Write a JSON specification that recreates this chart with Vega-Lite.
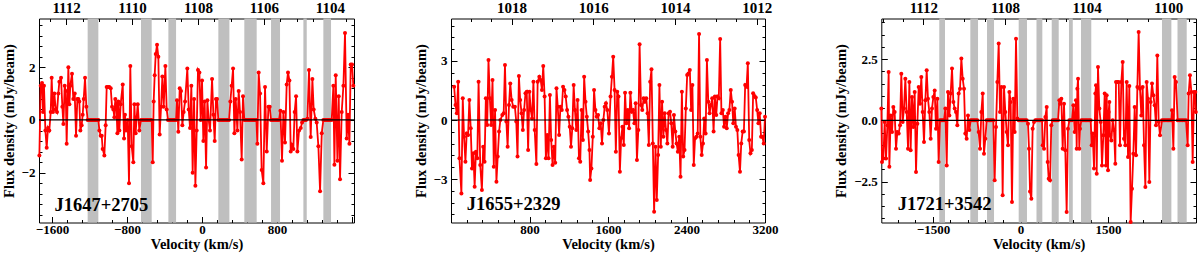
{
"$schema": "https://vega.github.io/schema/vega-lite/v6.json",
"width": 1200, "height": 256,
"autosize": {"type": "none"},
"padding": 0,
"config": {
  "view": {"stroke": null},
  "axis": {"labelFont": "Liberation Serif", "labelFontWeight": "bold", "labelFontSize": 13, "labelColor": "black",
           "titleFont": "Liberation Serif", "titleFontWeight": "bold", "titleFontSize": 14.5, "titleColor": "black",
           "domainColor": "black", "tickColor": "black", "grid": false, "labelOverlap": false, "labelFlush": false,
           "domainWidth": 1, "tickWidth": 1}
},
"resolve": {"scale": {"x": "independent", "y": "independent"}, "axis": {"x": "independent", "y": "independent"}},
"layer": [
 {
  "resolve": {"scale": {"x": "independent", "y": "independent"}, "axis": {"x": "independent", "y": "independent"}},
  "layer": [
   {"layer": [
     {"data": {"values": [{"lo":-1220,"hi":-1106},{"lo":-651,"hi":-537},{"lo":-359,"hi":-277},{"lo":174,"hi":292},{"lo":451,"hi":583},{"lo":736,"hi":832},{"lo":1081,"hi":1117},{"lo":1294,"hi":1376}]},
      "mark": {"type": "rect", "color": "#bfbfbf"},
      "encoding": {"x": {"field": "lo", "type": "quantitative", "axis": null}, "x2": {"field": "hi"},
                   "y": {"datum": -3.89, "type": "quantitative", "axis": null}, "y2": {"datum": 3.85}}},
     {"data": {"values": [
{"v":-1735,"f":-1.35},{"v":-1721,"f":1.3},{"v":-1707,"f":1.4},{"v":-1696,"f":0.3},{"v":-1686,"f":1.3},{"v":-1671,"f":-0.4},{"v":-1657,"f":-1.05},{"v":-1643,"f":-0.3},{"v":-1629,"f":-0.4},{"v":-1614,"f":0.3},{"v":-1604,"f":1.6},{"v":-1590,"f":0.3},{"v":-1575,"f":1.0},{"v":-1561,"f":0.4},{"v":-1547,"f":0.3},{"v":-1533,"f":1.0},{"v":-1522,"f":1.45},{"v":-1504,"f":1.6},{"v":-1490,"f":0.5},{"v":-1479,"f":-0.15},{"v":-1465,"f":1.3},{"v":-1454,"f":1.1},{"v":-1444,"f":-0.9},{"v":-1426,"f":2.0},{"v":-1415,"f":0.6},{"v":-1405,"f":1.3},{"v":-1387,"f":1.75},{"v":-1373,"f":0.8},{"v":-1358,"f":1.0},{"v":-1344,"f":-0.6},{"v":-1330,"f":0.8},{"v":-1319,"f":0.8},{"v":-1309,"f":0.7},{"v":-1298,"f":-0.4},{"v":-1284,"f":-0.2},{"v":-1273,"f":0.2},{"v":-1262,"f":0.8},{"v":-1248,"f":1.6},{"v":-1234,"f":0.5},
{"v":-1220,"f":0},{"v":-1206,"f":0},{"v":-1191,"f":0},{"v":-1177,"f":0},{"v":-1163,"f":0},{"v":-1149,"f":0},{"v":-1135,"f":0},{"v":-1120,"f":0},{"v":-1106,"f":0},
{"v":-1095,"f":-0.4},{"v":-1081,"f":-0.6},{"v":-1070,"f":-0.6},{"v":-1060,"f":-1.1},{"v":-1042,"f":-1.35},{"v":-1028,"f":-0.2},{"v":-1017,"f":1.25},{"v":-1003,"f":1.25},{"v":-989,"f":1.25},{"v":-974,"f":1.2},{"v":-960,"f":0.5},{"v":-946,"f":0.4},{"v":-935,"f":0.1},{"v":-925,"f":0.8},{"v":-914,"f":0.6},{"v":-903,"f":-0.5},{"v":-893,"f":0.7},{"v":-882,"f":-0.4},{"v":-868,"f":0.6},{"v":-846,"f":1.35},{"v":-832,"f":-0.7},{"v":-822,"f":0.2},{"v":-811,"f":-0.4},{"v":-793,"f":0.0},{"v":-779,"f":-2.4},{"v":-765,"f":2.05},{"v":-750,"f":-1.0},{"v":-733,"f":-1.6},{"v":-722,"f":0.6},{"v":-708,"f":-0.5},{"v":-697,"f":0.1},{"v":-686,"f":0.6},{"v":-669,"f":-0.4},
{"v":-651,"f":0},{"v":-637,"f":0},{"v":-622,"f":0},{"v":-608,"f":0},{"v":-594,"f":0},{"v":-580,"f":0},{"v":-566,"f":0},{"v":-551,"f":0},{"v":-537,"f":0},
{"v":-526,"f":-1.6},{"v":-516,"f":0.7},{"v":-505,"f":1.7},{"v":-494,"f":2.5},{"v":-480,"f":2.85},{"v":-466,"f":2.4},{"v":-452,"f":-0.55},{"v":-437,"f":0.5},{"v":-423,"f":1.65},{"v":-409,"f":0.5},{"v":-391,"f":2.05},{"v":-377,"f":0.4},
{"v":-363,"f":0},{"v":-349,"f":0},{"v":-334,"f":0},{"v":-320,"f":0},{"v":-306,"f":0},{"v":-292,"f":0},{"v":-277,"f":0},
{"v":-267,"f":0.75},{"v":-253,"f":-0.45},{"v":-238,"f":1.2},{"v":-224,"f":1.1},{"v":-210,"f":-0.2},{"v":-196,"f":0.3},{"v":-181,"f":0.7},{"v":-157,"f":1.95},{"v":-142,"f":0.4},{"v":-128,"f":-0.3},{"v":-114,"f":1.3},{"v":-100,"f":-2.0},{"v":-85,"f":0.8},{"v":-71,"f":-2.5},{"v":-57,"f":-0.4},{"v":-43,"f":1.9},{"v":-28,"f":1.8},{"v":-14,"f":0.0},{"v":0,"f":1.5},{"v":14,"f":-0.8},{"v":28,"f":0.7},{"v":43,"f":-1.8},{"v":57,"f":0.75},{"v":71,"f":0.0},{"v":85,"f":-0.4},{"v":107,"f":1.55},{"v":121,"f":0.2},{"v":135,"f":-0.8},{"v":149,"f":0.8},{"v":160,"f":0.8},
{"v":174,"f":0},{"v":188,"f":0},{"v":203,"f":0},{"v":217,"f":0},{"v":231,"f":0},{"v":245,"f":0},{"v":260,"f":0},{"v":274,"f":0},{"v":288,"f":0},
{"v":302,"f":0.7},{"v":316,"f":1.3},{"v":331,"f":1.95},{"v":345,"f":-0.5},{"v":359,"f":0.8},{"v":377,"f":-0.4},{"v":391,"f":1.1},{"v":405,"f":0.3},{"v":423,"f":-1.5},{"v":437,"f":0.9},
{"v":451,"f":0},{"v":466,"f":0},{"v":480,"f":0},{"v":494,"f":0},{"v":508,"f":0},{"v":523,"f":0},{"v":537,"f":0},{"v":551,"f":0},{"v":565,"f":0},{"v":580,"f":0},
{"v":590,"f":-0.9},{"v":604,"f":1.8},{"v":619,"f":1.0},{"v":636,"f":-1.9},{"v":654,"f":-2.4},{"v":672,"f":1.25},{"v":690,"f":-1.2},{"v":708,"f":0.5},{"v":722,"f":0.5},
{"v":736,"f":0},{"v":750,"f":0},{"v":764,"f":0},{"v":779,"f":0},{"v":793,"f":0},{"v":807,"f":0},{"v":821,"f":0},
{"v":836,"f":0.35},{"v":853,"f":-1.55},{"v":868,"f":0.3},{"v":885,"f":-0.85},{"v":903,"f":1.35},{"v":917,"f":1.8},{"v":932,"f":1.5},{"v":946,"f":-1.2},{"v":960,"f":-0.95},{"v":974,"f":-1.1},{"v":988,"f":0.3},{"v":1003,"f":0.9},{"v":1017,"f":-1.2},{"v":1035,"f":-0.4},{"v":1053,"f":-0.3},{"v":1067,"f":-0.1},
{"v":1081,"f":0},{"v":1095,"f":0},{"v":1109,"f":0},
{"v":1124,"f":0.05},{"v":1141,"f":1.9},{"v":1159,"f":-0.65},{"v":1177,"f":1.55},{"v":1191,"f":0.4},{"v":1209,"f":0.05},{"v":1223,"f":-0.1},{"v":1241,"f":-1.0},{"v":1259,"f":-2.7},{"v":1277,"f":-0.5},
{"v":1294,"f":0},{"v":1309,"f":0},{"v":1323,"f":0},{"v":1337,"f":0},{"v":1351,"f":0},{"v":1365,"f":0},
{"v":1383,"f":0.0},{"v":1401,"f":1.3},{"v":1412,"f":-1.7},{"v":1426,"f":1.7},{"v":1444,"f":-1.55},{"v":1458,"f":0.9},{"v":1472,"f":-2.25},{"v":1490,"f":0.3},{"v":1508,"f":1.3},{"v":1525,"f":3.3},{"v":1543,"f":-0.7},{"v":1557,"f":0.2},{"v":1572,"f":-0.9},{"v":1586,"f":2.1},{"v":1600,"f":2.1},{"v":1614,"f":1.3}
      ]},
      "mark": {"type": "line", "color": "#ff0000", "strokeWidth": 1.8, "point": {"filled": true, "size": 16, "color": "#ff0000"}},
      "encoding": {
        "x": {"field": "v", "type": "quantitative", "scale": {"domain": [-1739, 1621], "range": [39, 354], "nice": false, "zero": false}, "axis": null},
        "y": {"field": "f", "type": "quantitative", "scale": {"domain": [-3.89, 3.85], "range": [222.5, 18.5], "nice": false, "zero": false}, "axis": null}
      }},
     {"data": {"values": [{}]}, "mark": {"type": "rule", "color": "black", "strokeWidth": 1.2},
      "encoding": {"x": {"datum": -1739, "type": "quantitative", "axis": null}, "x2": {"datum": 1621}, "y": {"datum": 0, "type": "quantitative", "axis": null}}},
     {"data": {"values": [{}]}, "mark": {"type": "text", "text": "J1647+2705", "font": "Liberation Serif", "fontWeight": "bold", "fontSize": 18.5, "align": "left", "baseline": "alphabetic", "color": "black"},
      "encoding": {"x": {"datum": -1575, "type": "quantitative", "axis": null}, "y": {"datum": -3.44, "type": "quantitative", "axis": null}}}
   ]},
   {"data": {"values": [{"v": 0, "f": 0}]}, "mark": {"type": "point", "opacity": 0},
    "encoding": {
      "x": {"field": "v", "type": "quantitative", "scale": {"domain": [-1739, 1621], "range": [39, 354], "nice": false, "zero": false},
            "axis": {"orient": "bottom", "offset": -33.5, "title": "Velocity (km/s)", "titleY": 25.5, "titleBaseline": "alphabetic",
                     "values": [-1600,-1440,-1280,-1120,-960,-800,-640,-480,-320,-160,0,160,320,480,640,800,960,1120,1280,1440,1600],
                     "labelExpr": "(abs(datum.value % 800) < 0.001 && datum.value < 1600) ? format(datum.value, 'd') : ''",
                     "tickSize": {"condition": {"test": "abs(datum.value % 800) < 0.001", "value": -6}, "value": -3},
                     "labelPadding": 6.5}},
      "y": {"field": "f", "type": "quantitative", "scale": {"domain": [-3.89, 3.85], "range": [222.5, 18.5], "nice": false, "zero": false},
            "axis": {"orient": "left", "offset": -39, "title": "Flux density (mJy/beam)", "titleX": -25.5, "titleBaseline": "alphabetic",
                     "values": [-3.6,-3.2,-2.8,-2.4,-2,-1.6,-1.2,-0.8,-0.4,0,0.4,0.8,1.2,1.6,2,2.4,2.8,3.2,3.6],
                     "labelExpr": "abs(datum.value % 2) < 0.001 ? format(datum.value, 'd') : ''",
                     "tickSize": {"condition": {"test": "abs(datum.value % 2) < 0.001", "value": -6}, "value": -3},
                     "labelPadding": 10}}
    }},
   {"data": {"values": [{"freq": 1108, "f": 0}]}, "mark": {"type": "point", "opacity": 0},
    "encoding": {
      "x": {"field": "freq", "type": "quantitative", "scale": {"domain": [1103.27, 1112.82], "reverse": true, "range": [39, 354], "nice": false, "zero": false},
            "axis": {"orient": "top", "offset": -18.5, "title": null,
                     "values": [1103.5,1104,1104.5,1105,1105.5,1106,1106.5,1107,1107.5,1108,1108.5,1109,1109.5,1110,1110.5,1111,1111.5,1112,1112.5],
                     "labelExpr": "abs(datum.value % 2) < 0.001 ? format(datum.value, 'd') : ''",
                     "tickSize": {"condition": {"test": "abs(datum.value % 2) < 0.001", "value": -6}, "value": -3},
                     "labelFontSize": 15, "labelPadding": 9.5}},
      "y": {"field": "f", "type": "quantitative", "scale": {"domain": [-3.89, 3.85], "range": [222.5, 18.5], "nice": false, "zero": false},
            "axis": {"orient": "right", "offset": -846, "title": null, "labels": false,
                     "values": [-3.6,-3.2,-2.8,-2.4,-2,-1.6,-1.2,-0.8,-0.4,0,0.4,0.8,1.2,1.6,2,2.4,2.8,3.2,3.6],
                     "tickSize": {"condition": {"test": "abs(datum.value % 2) < 0.001", "value": -6}, "value": -3}}}
    }}
  ]
 },
 {
  "resolve": {"scale": {"x": "independent", "y": "independent"}, "axis": {"x": "independent", "y": "independent"}},
  "layer": [
   {"layer": [
     {"data": {"values": [
{"v":32,"f":1.69},{"v":46,"f":0.76},{"v":59,"f":0.34},{"v":73,"f":1.95},{"v":86,"f":-1.95},{"v":106,"f":-3.73},{"v":120,"f":1.1},{"v":133,"f":-0.85},{"v":147,"f":-2.12},{"v":160,"f":-0.68},{"v":174,"f":-0.76},{"v":187,"f":1.02},{"v":201,"f":-0.42},{"v":214,"f":-2.46},{"v":228,"f":-1.69},{"v":241,"f":-3.39},{"v":254,"f":-1.61},{"v":268,"f":-1.95},{"v":281,"f":1.95},{"v":298,"f":-2.29},{"v":315,"f":-3.56},{"v":328,"f":-1.36},{"v":342,"f":-2.12},{"v":355,"f":1.1},{"v":369,"f":-0.25},{"v":382,"f":3.05},{"v":396,"f":1.1},{"v":409,"f":-0.25},{"v":423,"f":2.03},{"v":436,"f":-2.37},{"v":449,"f":0.51},{"v":463,"f":-3.14},{"v":476,"f":-1.86},{"v":490,"f":-0.59},{"v":503,"f":0},{"v":523,"f":0.25},{"v":537,"f":0.34},{"v":550,"f":2.8},{"v":564,"f":-0.08},{"v":577,"f":-1.36},{"v":591,"f":0.76},{"v":604,"f":1.86},{"v":618,"f":1.02},{"v":634,"f":0.68},{"v":651,"f":0.68},{"v":665,"f":-0.08},{"v":678,"f":-1.86},{"v":692,"f":2.24},{"v":705,"f":1.02},{"v":719,"f":0.34},{"v":732,"f":-0.51},{"v":745,"f":0.51},{"v":759,"f":1.36},{"v":772,"f":1.44},{"v":786,"f":-1.53},{"v":799,"f":1.44},{"v":813,"f":0.51},{"v":826,"f":0.08},{"v":840,"f":1.95},{"v":853,"f":-0.51},{"v":870,"f":-2.24},{"v":883,"f":1.95},{"v":900,"f":2.2},{"v":914,"f":2.03},{"v":927,"f":1.53},{"v":940,"f":2.75},{"v":954,"f":1.19},{"v":967,"f":-1.95},{"v":981,"f":-0.76},{"v":994,"f":-1.95},{"v":1008,"f":1.27},{"v":1021,"f":-1.02},{"v":1035,"f":-2.29},{"v":1048,"f":-1.36},{"v":1062,"f":-2.17},{"v":1075,"f":1.61},{"v":1088,"f":0.68},{"v":1102,"f":-0.76},{"v":1115,"f":0.68},{"v":1129,"f":0.51},{"v":1142,"f":1.69},{"v":1156,"f":1.53},{"v":1169,"f":1.19},{"v":1183,"f":0.51},{"v":1196,"f":0.17},{"v":1210,"f":-0.34},{"v":1223,"f":-1.36},{"v":1236,"f":-0.42},{"v":1250,"f":1.78},{"v":1263,"f":0.51},{"v":1277,"f":-0.51},{"v":1290,"f":1.02},{"v":1304,"f":-1.95},{"v":1317,"f":-2.12},{"v":1331,"f":0.51},{"v":1344,"f":-1.02},{"v":1357,"f":2.2},{"v":1371,"f":0.93},{"v":1384,"f":0.17},{"v":1398,"f":-0.59},{"v":1411,"f":-1.53},{"v":1418,"f":-3.05},{"v":1431,"f":-2.46},{"v":1445,"f":-0.85},{"v":1458,"f":1.53},{"v":1472,"f":0.51},{"v":1485,"f":0.17},{"v":1499,"f":0.25},{"v":1512,"f":-0.42},{"v":1526,"f":-0.17},{"v":1539,"f":-1.19},{"v":1553,"f":0},{"v":1566,"f":0.68},{"v":1579,"f":0.85},{"v":1593,"f":0.51},
{"v":1610,"f":-0.68},{"v":1626,"f":1.19},{"v":1640,"f":2.2},{"v":1653,"f":3.22},{"v":1667,"f":1.53},{"v":1680,"f":-1.61},{"v":1694,"f":1.44},{"v":1707,"f":1.19},{"v":1721,"f":-2.63},{"v":1734,"f":-0.93},{"v":1747,"f":-0.34},{"v":1761,"f":-1.27},{"v":1774,"f":1.39},{"v":1788,"f":-0.17},{"v":1801,"f":0.51},{"v":1815,"f":-0.42},{"v":1828,"f":1.39},{"v":1842,"f":0.42},{"v":1855,"f":0.51},{"v":1869,"f":-0.17},{"v":1882,"f":0.85},{"v":1895,"f":-2.03},{"v":1909,"f":-0.51},{"v":1922,"f":3.85},{"v":1936,"f":0.76},{"v":1949,"f":0.51},{"v":1963,"f":1.1},{"v":1976,"f":0.93},{"v":1990,"f":1.1},{"v":2003,"f":0.34},{"v":2016,"f":-1.27},{"v":2030,"f":1.95},{"v":2043,"f":2.58},{"v":2057,"f":-1.19},{"v":2070,"f":-4.66},{"v":2084,"f":-1.36},{"v":2097,"f":-4.07},{"v":2111,"f":-1.78},{"v":2124,"f":1.78},{"v":2138,"f":-1.36},{"v":2151,"f":0.93},{"v":2164,"f":-0.85},{"v":2178,"f":0.34},{"v":2191,"f":-0.51},{"v":2205,"f":-1.19},{"v":2218,"f":0.34},{"v":2232,"f":0.42},{"v":2245,"f":-0.17},{"v":2259,"f":-1.36},{"v":2272,"f":0.25},{"v":2286,"f":-0.59},{"v":2299,"f":-1.19},{"v":2312,"f":-1.61},{"v":2326,"f":-0.85},{"v":2339,"f":-2.88},{"v":2353,"f":1.44},{"v":2366,"f":-1.86},{"v":2380,"f":-1.53},{"v":2393,"f":0.59},{"v":2407,"f":2.29},{"v":2420,"f":2.37},{"v":2434,"f":2.54},{"v":2447,"f":0.51},{"v":2460,"f":1.78},{"v":2474,"f":-2.29},{"v":2487,"f":-0.93},{"v":2501,"f":-0.85},{"v":2514,"f":-0.68},{"v":2528,"f":4.37},{"v":2541,"f":-0.85},{"v":2555,"f":-1.78},{"v":2568,"f":-1.19},{"v":2581,"f":0.08},{"v":2595,"f":-0.68},{"v":2608,"f":3.05},{"v":2622,"f":0.93},{"v":2635,"f":0.34},{"v":2649,"f":0.76},{"v":2662,"f":1.1},{"v":2676,"f":-0.59},{"v":2689,"f":1.19},{"v":2703,"f":0.25},{"v":2716,"f":1.19},{"v":2729,"f":1.1},{"v":2743,"f":4.12},{"v":2756,"f":0.34},{"v":2770,"f":0.51},{"v":2783,"f":-0.34},{"v":2797,"f":0.17},{"v":2810,"f":-0.42},{"v":2824,"f":0.34},{"v":2837,"f":0.51},{"v":2851,"f":1.53},{"v":2864,"f":0.93},{"v":2877,"f":-0.17},{"v":2891,"f":0.59},{"v":2904,"f":-0.34},{"v":2918,"f":-0.51},{"v":2931,"f":-1.78},{"v":2945,"f":-2.63},{"v":2958,"f":-1.19},{"v":2972,"f":-0.59},{"v":2985,"f":-0.59},{"v":2998,"f":1.78},{"v":3012,"f":1.69},{"v":3025,"f":2.88},{"v":3039,"f":-1.02},{"v":3052,"f":-1.69},{"v":3066,"f":-1.53},{"v":3079,"f":1.36},{"v":3093,"f":1.22},{"v":3106,"f":1.15},{"v":3120,"f":0.51},{"v":3133,"f":-0.17},{"v":3146,"f":0.34},{"v":3160,"f":-0.85},{"v":3173,"f":-0.85},{"v":3187,"f":-1.19},{"v":3200,"f":0.17}
      ]},
      "mark": {"type": "line", "color": "#ff0000", "strokeWidth": 1.8, "point": {"filled": true, "size": 16, "color": "#ff0000"}},
      "encoding": {
        "x": {"field": "v", "type": "quantitative", "scale": {"domain": [0, 3200], "range": [451, 765], "nice": false, "zero": false}, "axis": null},
        "y": {"field": "f", "type": "quantitative", "scale": {"domain": [-5.21, 5.16], "range": [222.5, 18.5], "nice": false, "zero": false}, "axis": null}
      }},
     {"data": {"values": [{}]}, "mark": {"type": "rule", "color": "black", "strokeWidth": 1.2},
      "encoding": {"x": {"datum": 0, "type": "quantitative", "axis": null}, "x2": {"datum": 3200}, "y": {"datum": 0, "type": "quantitative", "axis": null}}},
     {"data": {"values": [{}]}, "mark": {"type": "text", "text": "J1655+2329", "font": "Liberation Serif", "fontWeight": "bold", "fontSize": 18.5, "align": "left", "baseline": "alphabetic", "color": "black"},
      "encoding": {"x": {"datum": 160, "type": "quantitative", "axis": null}, "y": {"datum": -4.58, "type": "quantitative", "axis": null}}}
   ]},
   {"data": {"values": [{"v": 1600, "f": 0}]}, "mark": {"type": "point", "opacity": 0},
    "encoding": {
      "x": {"field": "v", "type": "quantitative", "scale": {"domain": [0, 3200], "range": [451, 765], "nice": false, "zero": false},
            "axis": {"orient": "bottom", "offset": -33.5, "title": "Velocity (km/s)", "titleY": 25.5, "titleBaseline": "alphabetic",
                     "values": [160,320,480,640,800,960,1120,1280,1440,1600,1760,1920,2080,2240,2400,2560,2720,2880,3040,3200],
                     "labelExpr": "abs(datum.value % 800) < 0.001 ? format(datum.value, 'd') : ''",
                     "tickSize": {"condition": {"test": "abs(datum.value % 800) < 0.001", "value": -6}, "value": -3},
                     "labelPadding": 6.5}},
      "y": {"field": "f", "type": "quantitative", "scale": {"domain": [-5.21, 5.16], "range": [222.5, 18.5], "nice": false, "zero": false},
            "axis": {"orient": "left", "offset": -451, "title": "Flux density (mJy/beam)", "titleX": -26, "titleBaseline": "alphabetic",
                     "values": [-4.8,-4.2,-3.6,-3,-2.4,-1.8,-1.2,-0.6,0,0.6,1.2,1.8,2.4,3,3.6,4.2,4.8],
                     "labelExpr": "abs(datum.value % 3) < 0.001 ? format(datum.value, 'd') : ''",
                     "tickSize": {"condition": {"test": "abs(datum.value % 3) < 0.001", "value": -6}, "value": -3},
                     "labelPadding": 10}}
    }},
   {"data": {"values": [{"freq": 1015, "f": 0}]}, "mark": {"type": "point", "opacity": 0},
    "encoding": {
      "x": {"field": "freq", "type": "quantitative", "scale": {"domain": [1011.8, 1019.48], "reverse": true, "range": [451, 765], "nice": false, "zero": false},
            "axis": {"orient": "top", "offset": -18.5, "title": null,
                     "values": [1012,1012.5,1013,1013.5,1014,1014.5,1015,1015.5,1016,1016.5,1017,1017.5,1018,1018.5,1019],
                     "labelExpr": "abs(datum.value % 2) < 0.001 ? format(datum.value, 'd') : ''",
                     "tickSize": {"condition": {"test": "abs(datum.value % 2) < 0.001", "value": -6}, "value": -3},
                     "labelFontSize": 15, "labelPadding": 9.5}},
      "y": {"field": "f", "type": "quantitative", "scale": {"domain": [-5.21, 5.16], "range": [222.5, 18.5], "nice": false, "zero": false},
            "axis": {"orient": "right", "offset": -435, "title": null, "labels": false,
                     "values": [-4.8,-4.2,-3.6,-3,-2.4,-1.8,-1.2,-0.6,0,0.6,1.2,1.8,2.4,3,3.6,4.2,4.8],
                     "tickSize": {"condition": {"test": "abs(datum.value % 3) < 0.001", "value": -6}, "value": -3}}}
    }}
  ]
 },
 {
  "resolve": {"scale": {"x": "independent", "y": "independent"}, "axis": {"x": "independent", "y": "independent"}},
  "layer": [
   {"layer": [
     {"data": {"values": [{"lo":-1392,"hi":-1294},{"lo":-860,"hi":-728},{"lo":-574,"hi":-454},{"lo":-31,"hi":111},{"lo":274,"hi":374},{"lo":535,"hi":655},{"lo":831,"hi":896},{"lo":1037,"hi":1213},{"lo":2425,"hi":2586},{"lo":2691,"hi":2849}]},
      "mark": {"type": "rect", "color": "#bfbfbf"},
      "encoding": {"x": {"field": "lo", "type": "quantitative", "axis": null}, "x2": {"field": "hi"},
                   "y": {"datum": -4.17, "type": "quantitative", "axis": null}, "y2": {"datum": 4.155}}},
     {"data": {"values": [
{"v":-2385,"f":0.48},{"v":-2374,"f":-1.7},{"v":-2351,"f":-1.56},{"v":-2328,"f":-0.07},{"v":-2305,"f":-1.56},{"v":-2282,"f":-0.2},{"v":-2260,"f":1.97},{"v":-2248,"f":-1.9},{"v":-2225,"f":0.2},{"v":-2202,"f":-0.48},{"v":-2180,"f":0.54},{"v":-2157,"f":0.34},{"v":-2134,"f":-1.16},{"v":-2111,"f":-0.48},{"v":-2088,"f":-0.54},{"v":-2065,"f":-0.2},{"v":-2043,"f":1.9},{"v":-2020,"f":-0.07},{"v":-1997,"f":0.48},{"v":-1974,"f":1.7},{"v":-1951,"f":0.34},{"v":-1928,"f":-1.16},{"v":-1905,"f":1.56},{"v":-1883,"f":-1.22},{"v":-1860,"f":0.95},{"v":-1837,"f":-0.27},{"v":-1814,"f":1.16},{"v":-1791,"f":-2.11},{"v":-1768,"f":-0.14},{"v":-1745,"f":1.36},{"v":-1723,"f":0.68},{"v":-1700,"f":1.77},{"v":-1677,"f":0.34},{"v":-1654,"f":-0.88},{"v":-1631,"f":0.82},{"v":-1608,"f":2.04},{"v":-1586,"f":0.88},{"v":-1563,"f":0.34},{"v":-1540,"f":-0.75},{"v":-1517,"f":0.48},{"v":-1494,"f":0.95},{"v":-1471,"f":1.22},{"v":-1448,"f":-0.34},{"v":-1425,"f":0.88},{"v":-1403,"f":-1.7},
{"v":-1380,"f":0},{"v":-1357,"f":0},{"v":-1334,"f":0},{"v":-1311,"f":0},
{"v":-1288,"f":0.48},{"v":-1265,"f":-1.84},{"v":-1243,"f":1.16},{"v":-1220,"f":0.2},{"v":-1197,"f":1.09},{"v":-1174,"f":2.11},{"v":-1151,"f":0.75},{"v":-1128,"f":0.48},{"v":-1106,"f":0.34},{"v":-1083,"f":-0.2},{"v":-1060,"f":1.09},{"v":-1037,"f":1.29},{"v":-1014,"f":2.52},{"v":-991,"f":1.7},{"v":-968,"f":1.29},{"v":-946,"f":-0.54},{"v":-923,"f":-0.75},{"v":-900,"f":0.2},{"v":-877,"f":-0.4},
{"v":-854,"f":0},{"v":-831,"f":0},{"v":-808,"f":0},{"v":-786,"f":0},{"v":-763,"f":0},{"v":-740,"f":0},
{"v":-717,"f":-0.48},{"v":-694,"f":-1.16},{"v":-671,"f":0.34},{"v":-648,"f":1.09},{"v":-626,"f":-1.36},{"v":-603,"f":-0.75},
{"v":-580,"f":0},{"v":-557,"f":0},{"v":-534,"f":0},{"v":-511,"f":0},{"v":-488,"f":0},{"v":-466,"f":0},
{"v":-443,"f":-2.45},{"v":-420,"f":-0.27},{"v":-397,"f":1.56},{"v":-374,"f":3.13},{"v":-351,"f":0.34},{"v":-328,"f":1.36},{"v":-306,"f":-3.06},{"v":-283,"f":1.36},{"v":-260,"f":0.34},{"v":-237,"f":-0.48},{"v":-214,"f":-1.02},{"v":-191,"f":1.16},{"v":-169,"f":0.75},{"v":-146,"f":-3.33},{"v":-123,"f":0.88},{"v":-100,"f":-0.48},{"v":-77,"f":3.33},{"v":-54,"f":0.07},
{"v":-31,"f":0},{"v":-9,"f":0},{"v":14,"f":0},{"v":37,"f":0},{"v":60,"f":0},{"v":83,"f":0},{"v":106,"f":0},
{"v":128,"f":-0.14},{"v":146,"f":-1.16},{"v":163,"f":-2.9},{"v":186,"f":-3.2},{"v":208,"f":-0.34},{"v":231,"f":-0.07},{"v":254,"f":0.0},
{"v":277,"f":0},{"v":300,"f":0},{"v":323,"f":0},{"v":346,"f":0},{"v":369,"f":0},
{"v":380,"f":-1.02},{"v":403,"f":-1.16},{"v":426,"f":0.14},{"v":449,"f":0.54},{"v":466,"f":-1.7},{"v":483,"f":-2.38},{"v":506,"f":-2.45},{"v":528,"f":-0.2},
{"v":551,"f":0},{"v":574,"f":0},{"v":597,"f":0},{"v":620,"f":0},{"v":643,"f":0},
{"v":666,"f":0.82},{"v":677,"f":0.68},{"v":700,"f":0.88},{"v":723,"f":-1.16},{"v":746,"f":0.68},{"v":768,"f":-1.22},{"v":791,"f":-3.74},{"v":814,"f":-0.34},
{"v":837,"f":0},{"v":860,"f":0},{"v":883,"f":0},
{"v":906,"f":0.61},{"v":928,"f":-0.48},{"v":951,"f":0.82},{"v":963,"f":-1.16},{"v":974,"f":1.29},{"v":986,"f":1.7},{"v":1008,"f":-1.16},{"v":1020,"f":-0.34},
{"v":1043,"f":0},{"v":1066,"f":0},{"v":1088,"f":0},{"v":1111,"f":0},{"v":1134,"f":0},{"v":1157,"f":0},{"v":1180,"f":0},{"v":1203,"f":0},
{"v":1220,"f":-1.02},{"v":1237,"f":-0.54},{"v":1260,"f":-1.97},{"v":1283,"f":1.09},{"v":1294,"f":1.43},{"v":1306,"f":-2.18},{"v":1328,"f":2.18},{"v":1351,"f":0.48},{"v":1374,"f":-0.07},{"v":1397,"f":-1.84},{"v":1420,"f":-0.61},{"v":1443,"f":1.09},{"v":1465,"f":-1.84},{"v":1477,"f":1.02},{"v":1500,"f":-2.04},{"v":1511,"f":0.34},{"v":1523,"f":0.75},{"v":1534,"f":-0.61},{"v":1557,"f":-0.82},{"v":1580,"f":0.0},{"v":1603,"f":-0.41},{"v":1625,"f":-1.77},{"v":1637,"f":1.56},{"v":1660,"f":1.56},{"v":1683,"f":1.56},{"v":1705,"f":-1.02},{"v":1728,"f":1.56},{"v":1751,"f":2.38},{"v":1774,"f":-0.75},{"v":1797,"f":-1.02},{"v":1820,"f":1.56},{"v":1843,"f":-1.5},{"v":1865,"f":1.4},{"v":1888,"f":-4.15},{"v":1911,"f":-2.79},{"v":1934,"f":-1.36},{"v":1957,"f":0.54},{"v":1980,"f":-1.43},{"v":2003,"f":1.36},{"v":2025,"f":3.6},{"v":2048,"f":1.29},{"v":2071,"f":0.2},{"v":2094,"f":1.36},{"v":2117,"f":-1.02},{"v":2140,"f":-2.72},{"v":2162,"f":1.56},{"v":2185,"f":0.88},{"v":2208,"f":-2.52},{"v":2231,"f":0.75},{"v":2254,"f":1.5},{"v":2277,"f":1.02},{"v":2300,"f":0.61},{"v":2322,"f":-0.2},{"v":2345,"f":2.65},{"v":2368,"f":-0.07},{"v":2391,"f":-0.61},
{"v":2425,"f":0},{"v":2448,"f":0},{"v":2471,"f":0},{"v":2494,"f":0},{"v":2517,"f":0},{"v":2540,"f":0},{"v":2562,"f":0},{"v":2585,"f":0},
{"v":2597,"f":0.41},{"v":2620,"f":-1.16},{"v":2642,"f":1.77},{"v":2665,"f":1.56},
{"v":2694,"f":0},{"v":2722,"f":0},{"v":2751,"f":0},{"v":2779,"f":0},{"v":2808,"f":0},{"v":2837,"f":0},
{"v":2865,"f":-1.02},{"v":2882,"f":1.09},{"v":2905,"f":1.84},{"v":2928,"f":1.16},{"v":2951,"f":-1.7},{"v":2974,"f":1.16},{"v":2996,"f":1.16},{"v":3005,"f":0.34}
      ]},
      "mark": {"type": "line", "color": "#ff0000", "strokeWidth": 1.8, "point": {"filled": true, "size": 16, "color": "#ff0000"}},
      "encoding": {
        "x": {"field": "v", "type": "quantitative", "scale": {"domain": [-2386, 3008], "range": [881.3, 1196], "nice": false, "zero": false}, "axis": null},
        "y": {"field": "f", "type": "quantitative", "scale": {"domain": [-4.17, 4.155], "range": [222.5, 18.5], "nice": false, "zero": false}, "axis": null}
      }},
     {"data": {"values": [{}]}, "mark": {"type": "rule", "color": "black", "strokeWidth": 1.2},
      "encoding": {"x": {"datum": -2386, "type": "quantitative", "axis": null}, "x2": {"datum": 3008}, "y": {"datum": 0, "type": "quantitative", "axis": null}}},
     {"data": {"values": [{}]}, "mark": {"type": "text", "text": "J1721+3542", "font": "Liberation Serif", "fontWeight": "bold", "fontSize": 18.5, "align": "left", "baseline": "alphabetic", "color": "black"},
      "encoding": {"x": {"datum": -2105, "type": "quantitative", "axis": null}, "y": {"datum": -3.67, "type": "quantitative", "axis": null}}}
   ]},
   {"data": {"values": [{"v": 0, "f": 0}]}, "mark": {"type": "point", "opacity": 0},
    "encoding": {
      "x": {"field": "v", "type": "quantitative", "scale": {"domain": [-2386, 3008], "range": [881.3, 1196], "nice": false, "zero": false},
            "axis": {"orient": "bottom", "offset": -33.5, "title": "Velocity (km/s)", "titleY": 25.5, "titleBaseline": "alphabetic",
                     "values": [-2100,-1800,-1500,-1200,-900,-600,-300,0,300,600,900,1200,1500,1800,2100,2400,2700],
                     "labelExpr": "abs(datum.value % 1500) < 0.001 ? format(datum.value, 'd') : ''",
                     "tickSize": {"condition": {"test": "abs(datum.value % 1500) < 0.001", "value": -6}, "value": -3},
                     "labelPadding": 6.5}},
      "y": {"field": "f", "type": "quantitative", "scale": {"domain": [-4.17, 4.155], "range": [222.5, 18.5], "nice": false, "zero": false},
            "axis": {"orient": "left", "offset": -881.3, "title": "Flux density (mJy/beam)", "titleX": -36.3, "titleBaseline": "alphabetic",
                     "values": [-4,-3.5,-3,-2.5,-2,-1.5,-1,-0.5,0,0.5,1,1.5,2,2.5,3,3.5,4],
                     "labelExpr": "abs(datum.value % 2.5) < 0.001 ? format(datum.value, '.1f') : ''",
                     "tickSize": {"condition": {"test": "abs(datum.value % 2.5) < 0.001", "value": -6}, "value": -3},
                     "labelPadding": 10}}
    }},
   {"data": {"values": [{"freq": 1106, "f": 0}]}, "mark": {"type": "point", "opacity": 0},
    "encoding": {
      "x": {"field": "freq", "type": "quantitative", "scale": {"domain": [1098.64, 1114.06], "reverse": true, "range": [881.3, 1196], "nice": false, "zero": false},
            "axis": {"orient": "top", "offset": -18.5, "title": null,
                     "values": [1099,1100,1101,1102,1103,1104,1105,1106,1107,1108,1109,1110,1111,1112,1113,1114],
                     "labelExpr": "abs(datum.value % 4) < 0.001 ? format(datum.value, 'd') : ''",
                     "tickSize": {"condition": {"test": "abs(datum.value % 4) < 0.001", "value": -6}, "value": -3},
                     "labelFontSize": 15, "labelPadding": 9.5}},
      "y": {"field": "f", "type": "quantitative", "scale": {"domain": [-4.17, 4.155], "range": [222.5, 18.5], "nice": false, "zero": false},
            "axis": {"orient": "right", "offset": -4, "title": null, "labels": false,
                     "values": [-4,-3.5,-3,-2.5,-2,-1.5,-1,-0.5,0,0.5,1,1.5,2,2.5,3,3.5,4],
                     "tickSize": {"condition": {"test": "abs(datum.value % 2.5) < 0.001", "value": -6}, "value": -3}}}
    }}
  ]
 }
]
}
